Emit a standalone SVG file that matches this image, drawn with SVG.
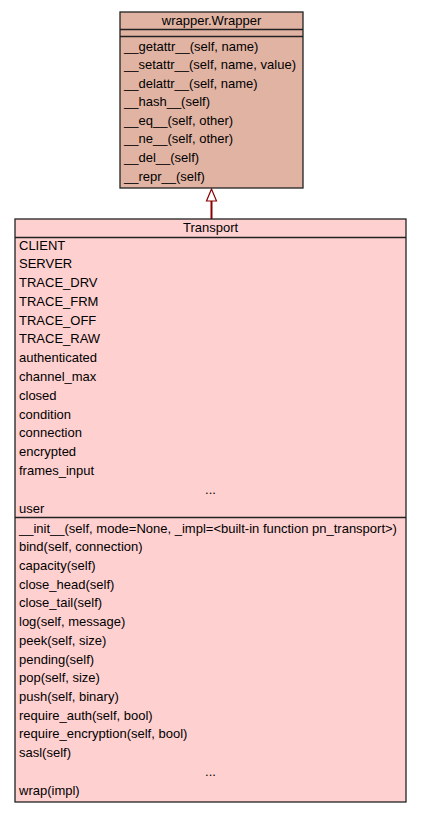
<svg xmlns="http://www.w3.org/2000/svg" width="421" height="813" viewBox="0 0 421 813">
<style>
text{font-family:"Liberation Sans",Arial,sans-serif;font-size:13px;fill:#000}
.c{text-anchor:middle}
.box{stroke:#222;stroke-width:1.3}
.sep{stroke:#222;stroke-width:1.3}
</style>
<rect width="421" height="813" fill="#fff"/>
<g id="connectors">
<line x1="211.5" y1="219" x2="211.5" y2="201" stroke="#8b0000" stroke-width="2"/>
<polygon points="211.5,189 206.5,201 216.5,201" fill="#fff" stroke="#8b0000" stroke-width="1.2"/>
</g>
<g id="wrapper">
<rect class="box" x="120" y="12" width="183" height="176" fill="#e0b3a3"/>
<line class="sep" x1="120" y1="29.5" x2="303" y2="29.5"/>
<line class="sep" x1="120" y1="36.5" x2="303" y2="36.5"/>
<text class="c" x="211.5" y="24.5">wrapper.Wrapper</text>
<text x="124" y="50.5">__getattr__(self, name)</text>
<text x="124" y="69.1">__setattr__(self, name, value)</text>
<text x="124" y="87.6">__delattr__(self, name)</text>
<text x="124" y="106.2">__hash__(self)</text>
<text x="124" y="124.8">__eq__(self, other)</text>
<text x="124" y="143.4">__ne__(self, other)</text>
<text x="124" y="161.9">__del__(self)</text>
<text x="124" y="180.5">__repr__(self)</text>
</g>
<g id="transport">
<rect class="box" x="15" y="219" width="391" height="583" fill="#ffd0d0"/>
<line class="sep" x1="15" y1="237.5" x2="406" y2="237.5"/>
<line class="sep" x1="15" y1="517.5" x2="406" y2="517.5"/>
<text class="c" x="210.5" y="232">Transport</text>
<text x="19" y="249.5">CLIENT</text>
<text x="19" y="268.3">SERVER</text>
<text x="19" y="287.1">TRACE_DRV</text>
<text x="19" y="305.9">TRACE_FRM</text>
<text x="19" y="324.7">TRACE_OFF</text>
<text x="19" y="343.4">TRACE_RAW</text>
<text x="19" y="362.2">authenticated</text>
<text x="19" y="381">channel_max</text>
<text x="19" y="399.8">closed</text>
<text x="19" y="418.6">condition</text>
<text x="19" y="437.4">connection</text>
<text x="19" y="456.2">encrypted</text>
<text x="19" y="475">frames_input</text>
<text class="c" x="210.5" y="493.8">...</text>
<text x="19" y="512.5">user</text>
<text x="19" y="532.5">__init__(self, mode=None, _impl=&lt;built-in function pn_transport&gt;)</text>
<text x="19" y="551.2">bind(self, connection)</text>
<text x="19" y="569.9">capacity(self)</text>
<text x="19" y="588.6">close_head(self)</text>
<text x="19" y="607.3">close_tail(self)</text>
<text x="19" y="626.1">log(self, message)</text>
<text x="19" y="644.8">peek(self, size)</text>
<text x="19" y="663.5">pending(self)</text>
<text x="19" y="682.2">pop(self, size)</text>
<text x="19" y="700.9">push(self, binary)</text>
<text x="19" y="719.6">require_auth(self, bool)</text>
<text x="19" y="738.3">require_encryption(self, bool)</text>
<text x="19" y="757.1">sasl(self)</text>
<text class="c" x="210.5" y="775.8">...</text>
<text x="19" y="794.5">wrap(impl)</text>
</g>
</svg>
